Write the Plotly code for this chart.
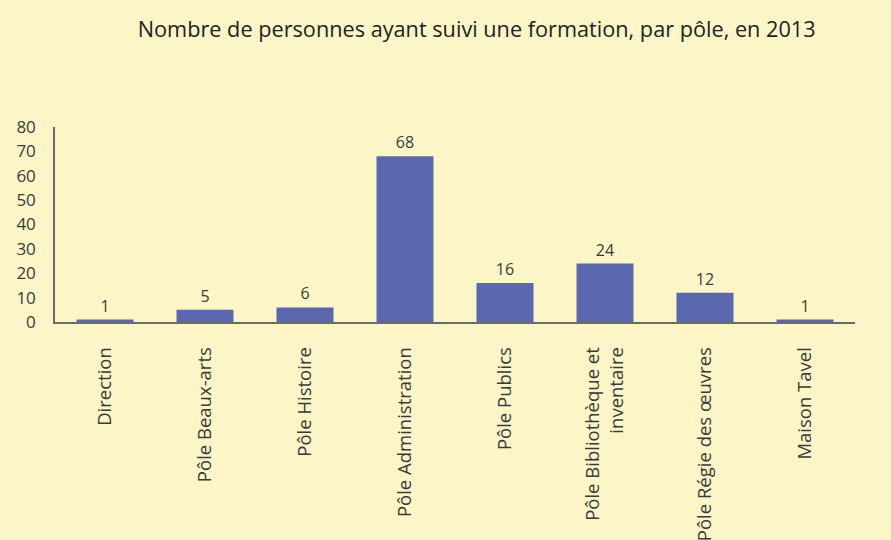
import plotly.graph_objects as go

categories = ["Direction", "Pôle Beaux-arts", "Pôle Histoire", "Pôle Administration",
              "Pôle Publics", "Pôle Bibliothèque et<br>inventaire", "Pôle Régie des œuvres", "Maison Tavel"]
values = [1, 5, 6, 68, 16, 24, 12, 1]
y_ticks = [0, 10, 20, 30, 40, 50, 60, 70, 80]

bg = "#fcf5c8"
bar_color = "#5b68ad"
text_color = "#3a3a3a"
font_family = "Open Sans, Noto Sans, sans-serif"

fig = go.Figure(go.Bar(
    x=categories, y=values,
    marker=dict(color=bar_color, line=dict(width=0)),
    text=[str(v) for v in values], textposition="outside",
    textfont=dict(size=16, color=text_color, family=font_family),
    cliponaxis=False,
))

fig.update_layout(
    width=891, height=540,
    paper_bgcolor=bg, plot_bgcolor=bg,
    margin=dict(l=55, r=36, t=127, b=218),
    bargap=0.43,
    showlegend=False,
    title=dict(text="Nombre de personnes ayant suivi une formation, par pôle, en 2013",
               x=0.535, xanchor="center", y=0.945, yanchor="middle",
               font=dict(size=21.7, color="#222222", family=font_family)),
    font=dict(family=font_family, color=text_color),
)
fig.update_xaxes(tickangle=-90, showline=True, linecolor="#6a6a6a", linewidth=1.5,
                 ticks="", tickfont=dict(size=18.5, color=text_color), showgrid=False,
                 ticklabelstandoff=16, automargin=False)
fig.update_yaxes(range=[0, 80], tickvals=y_ticks, showline=True, linecolor="#6a6a6a",
                 linewidth=1.5, showgrid=False, zeroline=False, ticks="",
                 tickfont=dict(size=17, color=text_color), ticklabelstandoff=14,
                 automargin=False)

fig.write_html("out.html", config={"displayModeBar": False},
               post_script="document.body.style.margin='0';")
